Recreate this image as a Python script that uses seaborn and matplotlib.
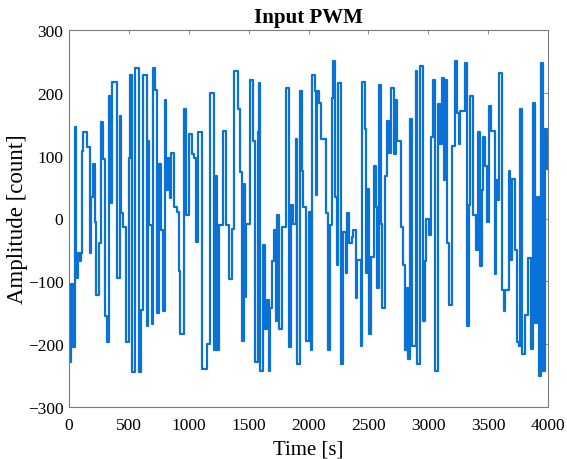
import numpy as np
import pandas as pd
import matplotlib
matplotlib.use("Agg")
import matplotlib.pyplot as plt
import seaborn as sns

# ---- data (step start time [s], held value [count]) ----
step_times = [
    0, 20, 32, 52, 60, 75, 90, 100, 110, 120, 150, 172, 180, 200, 215, 228, 248, 268, 288, 302,
    318, 338, 352, 362, 400, 425, 438, 455, 480, 500, 510, 528, 555, 582, 598, 615, 652, 663, 672, 690,
    700, 718, 736, 755, 770, 788, 803, 812, 828, 845, 853, 880, 906, 918, 930, 958, 975, 1005, 1025, 1045,
    1058, 1080, 1108, 1153, 1178, 1210, 1228, 1238, 1255, 1284, 1311, 1340, 1360, 1380, 1408, 1428, 1445, 1458, 1468, 1475,
    1510, 1540, 1555, 1575, 1588, 1597, 1622, 1638, 1652, 1666, 1677, 1695, 1713, 1727, 1741, 1755, 1778, 1816, 1839, 1853,
    1872, 1894, 1908, 1928, 1945, 1955, 1978, 2000, 2020, 2033, 2055, 2065, 2075, 2088, 2102, 2145, 2164, 2180, 2200, 2208,
    2220, 2236, 2247, 2270, 2292, 2310, 2325, 2340, 2360, 2375, 2395, 2408, 2436, 2450, 2470, 2480, 2490, 2505, 2520, 2547,
    2560, 2575, 2590, 2602, 2617, 2636, 2652, 2672, 2692, 2714, 2728, 2741, 2775, 2790, 2805, 2825, 2833, 2844, 2866, 2894,
    2908, 2927, 2955, 2972, 2983, 3010, 3027, 3040, 3055, 3083, 3102, 3116, 3130, 3144, 3158, 3172, 3200, 3227, 3241, 3255,
    3269, 3310, 3325, 3338, 3352, 3372, 3400, 3416, 3436, 3448, 3455, 3477, 3490, 3510, 3527, 3555, 3566, 3582, 3593, 3616,
    3630, 3643, 3671, 3685, 3699, 3721, 3741, 3755, 3769, 3782, 3805, 3832, 3860, 3874, 3893, 3908, 3927, 3944, 3957, 3971,
    3990,
]
pwm_values = [
    -229, -105, -205, 145, -95, -55, -68, -55, 108, 137, 113, -55, 34, 87, -5, -121, -39, 153, 95, -155,
    -197, 195, 24, 218, -95, 163, 8, -13, -197, 97, 229, -245, 240, -245, -145, 229, -171, 124, -10, -168,
    240, 205, -150, 87, -18, -147, 189, 45, 97, 32, 105, 18, 10, -84, -184, 174, 5, 134, 103, 97,
    -37, 137, -240, -200, 200, -210, 68, -210, -10, 139, -10, -97, -16, 234, 174, 74, -195, 55, -125, -8,
    221, 124, -229, 137, 216, -242, -42, -176, -129, -242, -142, -68, -18, -163, 5, -176, -13, 208, -205, 21,
    -8, 126, -232, 203, 76, 18, -195, 10, -210, 229, 203, 37, 203, 184, 126, 8, -210, -10, 192, 250,
    34, -74, 216, -232, -21, -87, 8, -39, -29, -18, -126, -66, -203, 218, 142, -87, 47, -184, -61, 84,
    18, -110, 213, -8, -142, 68, 155, 105, 208, 103, 189, 124, -13, -74, -210, -110, -224, 158, -203, 234,
    -232, 242, -163, -68, 0, -26, 129, 221, -242, 182, 118, 224, 61, 221, -39, -137, 116, 250, 168, 118,
    171, 247, -171, 21, 195, 5, -50, 137, -76, 45, 129, 84, -5, 179, 139, -89, 61, 29, 232, -113,
    -147, -113, 76, -66, 63, -50, -197, -203, 174, -216, -153, -63, -208, 184, -166, 34, -250, 247, -242, 142,
    79,
]
t_end = 4000

x_ticks = [0, 500, 1000, 1500, 2000, 2500, 3000, 3500, 4000]
y_ticks = [-300, -200, -100, 0, 100, 200, 300]

df = pd.DataFrame({"time": step_times + [t_end],
                   "amplitude": pwm_values + [pwm_values[-1]]})

sns.set_theme(style="white")
plt.rcParams["font.family"] = ["Liberation Serif", "DejaVu Serif"]
plt.rcParams["text.color"] = "black"
plt.rcParams["axes.labelcolor"] = "black"

fig = plt.figure(figsize=(5.67, 4.60), dpi=100)
ax = fig.add_axes([69 / 567, 1 - 408 / 460, (548 - 69) / 567, (408 - 31) / 460])

sns.lineplot(data=df, x="time", y="amplitude", ax=ax, estimator=None, sort=False,
             drawstyle="steps-post", color="#0A72D6", linewidth=1.6)

ax.set_xlim(0, 4000)
ax.set_ylim(-300, 300)
ax.set_xticks(x_ticks)
ax.set_yticks(y_ticks)
ax.tick_params(direction="in", length=3, width=0.6, color="#7a7a7a",
               top=True, right=True, labelsize=12.5, labelcolor="black")
ax.tick_params(axis="x", pad=7)
ax.tick_params(axis="y", pad=4)
for sp in ax.spines.values():
    sp.set_color("#7a7a7a")
    sp.set_linewidth(0.8)

ax.set_title("Input PWM", fontsize=15, fontweight="bold", pad=6, color="black")
ax.set_xlabel("Time [s]", fontsize=15, labelpad=5, color="black")
ax.set_ylabel("Amplitude [count]", fontsize=16.5, labelpad=0, color="black")

fig.savefig("out.png", dpi=100, facecolor="white")
